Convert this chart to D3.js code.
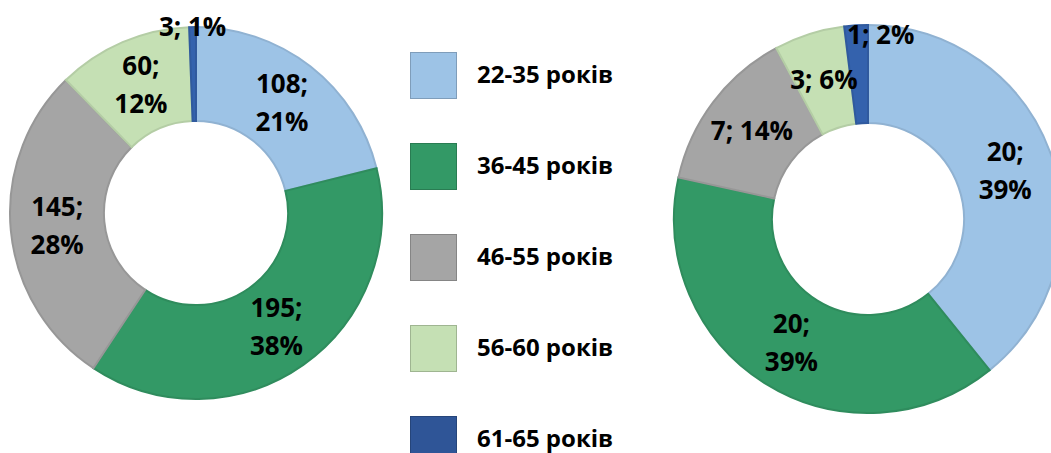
<!DOCTYPE html>
<html>
<head>
<meta charset="utf-8">
<script src="https://cdn.jsdelivr.net/npm/d3@7"></script>
<style>
  body { margin: 0; background: #fff; }
  svg { display: block; font-family: "Open Sans", "Noto Sans", sans-serif; font-weight: bold; }
</style>
</head>
<body>
<svg id="chart" width="1051" height="453"></svg>
<script>
// categories and values
const categories = ["22-35 років", "36-45 років", "46-55 років", "56-60 років", "61-65 років"];
const colors = ["#9dc3e6", "#339966", "#a5a5a5", "#c5e0b4", "#3462ad"];
const legendColors = ["#9dc3e6", "#339966", "#a5a5a5", "#c5e0b4", "#2f5597"];

const leftValues = [108, 195, 145, 60, 3];
const leftPercents = [21, 38, 28, 12, 1];
const rightValues = [20, 20, 7, 3, 1];
const rightPercents = [39, 39, 14, 6, 2];

// which labels wrap onto two lines
const leftWrap = [true, true, true, true, false];
const rightWrap = [true, true, false, false, false];

let svg = d3.select("#chart");

function donut(cx, cy, outer, values, percents, wrap, smallR, smallDx) {
    let g = svg.append("g").attr("transform", "translate(" + cx + "," + cy + ")");

    let pie = d3.pie().sort(null).value(d => d);
    let arcs = pie(values);
    let arc = d3.arc().innerRadius(outer * 0.495).outerRadius(outer);
    let mid = d3.arc().innerRadius(outer * 0.75).outerRadius(outer * 0.75);

    g.selectAll("path")
        .data(arcs)
        .enter()
        .append("path")
          .attr("d", arc)
          .attr("fill", (d, i) => colors[i])
          .attr("stroke", (d, i) => d3.color(colors[i]).darker(0.25))
          .attr("stroke-width", 2);

    // labels
    let total = d3.sum(values);
    arcs.forEach((d, i) => {
        let p;
        if (values[i] / total < 0.03) {
            let a = (d.startAngle + d.endAngle) / 2;
            p = [Math.sin(a) * smallR + smallDx, -Math.cos(a) * smallR];
        } else {
            p = mid.centroid(d);
        }
        let t = g.append("text")
            .attr("text-anchor", "middle")
            .style("font-size", "26px")
            .attr("fill", "#000");
        if (wrap[i]) {
            t.append("tspan").attr("x", p[0]).attr("y", p[1] - 19).attr("dy", "0.35em").text(values[i] + ";");
            t.append("tspan").attr("x", p[0]).attr("y", p[1] + 19).attr("dy", "0.35em").text(percents[i] + "%");
        } else {
            t.append("tspan").attr("x", p[0]).attr("y", p[1]).attr("dy", "0.35em")
                .text(values[i] + "; " + percents[i] + "%");
        }
    });
}

donut(196, 213, 186, leftValues, leftPercents, leftWrap, 186, 0);
donut(868, 219, 194, rightValues, rightPercents, rightWrap, 184, 24);

// legend
let y = d3.scaleBand().domain(categories).range([52, 52 + 91 * 5]);
let legend = svg.append("g");
categories.forEach((c, i) => {
    legend.append("rect")
        .attr("x", 410.5)
        .attr("y", y(c) + 0.5)
        .attr("width", 46)
        .attr("height", 46)
        .attr("fill", legendColors[i])
        .attr("stroke", d3.color(legendColors[i]).darker(0.6))
        .attr("stroke-width", 1);
    legend.append("text")
        .attr("x", 477)
        .attr("y", y(c) + 23)
        .attr("dy", "0.35em")
        .style("font-size", "24px")
        .attr("fill", "#000")
        .text(c);
});
</script>
</body>
</html>
